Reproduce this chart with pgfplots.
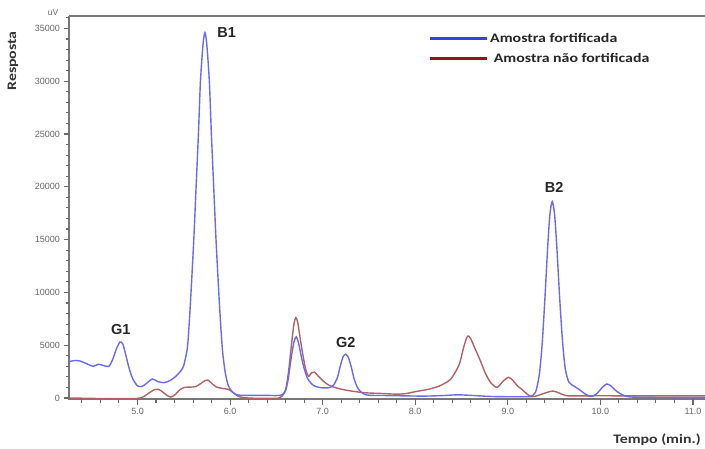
\documentclass[border=0pt]{standalone}
\usepackage{pgfplots}
\pgfplotsset{compat=1.18}
\usepackage{fontspec}
\setmainfont{Liberation Sans}
\newfontfamily\calb[FakeStretch=1.22]{Carlito}
\definecolor{cblue}{RGB}{105,105,248}
\definecolor{cred}{RGB}{178,98,98}
\definecolor{lblue}{RGB}{55,65,225}
\definecolor{lred}{RGB}{140,22,28}
\definecolor{axgray}{RGB}{120,120,120}
\definecolor{tkgray}{RGB}{105,105,105}
\begin{document}
\begin{tikzpicture}
\path[use as bounding box] (0pt,0pt) rectangle (705pt,448pt);
\begin{axis}[
  at={(69pt,49pt)}, anchor=south west,
  scale only axis, width=636pt, height=383pt,
  xmin=4.26, xmax=11.13, ymin=-95, ymax=36175,
  axis line style={draw=none},
  tick align=outside, xtick pos=bottom, ytick pos=left,
  major tick length=5.5pt, minor tick length=3.5pt,
  tick style={draw=tkgray, line width=1.1pt},
  xtick={5,6,7,8,9,10,11}, minor x tick num=4,
  ytick={0,5000,10000,15000,20000,25000,30000,35000}, minor y tick num=4,
  scaled y ticks=false, scaled x ticks=false,
  /pgf/number format/assume math mode=true,
  /pgf/number format/1000 sep={},
  xticklabel style={/pgf/number format/fixed, /pgf/number format/fixed zerofill, /pgf/number format/precision=1},
  yticklabel style={/pgf/number format/fixed, /pgf/number format/precision=0},
  tick label style={font=\fontsize{9}{10}\selectfont, text=black!60},
  clip=false,
  legend style={at={(0.5645,0.955)}, anchor=north west, draw=none, fill=none,
    font=\calb\bfseries\fontsize{13}{15}\selectfont, row sep=9pt, inner sep=0pt,
    cells={anchor=west}, nodes={inner xsep=2pt, inner ysep=0pt, text=black!85}},
  legend image code/.code={\draw[#1] (0pt,0pt) -- (57pt,0pt);},
]
\addlegendimage{lblue, line width=3pt}
\addlegendentry{Amostra fortificada}
\addlegendimage{lred, line width=3pt}
\addlegendentry{~Amostra não fortificada}
% axis frame (left, bottom, top) and ticks
\draw[axgray, line width=2pt] (rel axis cs:0,1) -- (rel axis cs:1,1);
\draw[axgray, line width=1.3pt] (rel axis cs:0,1) -- (rel axis cs:0,0) -- (rel axis cs:1,0);
\pgfplotsinvokeforeach{5,6,7,8,9,10,11}{\draw[tkgray, line width=1.1pt] (axis cs:#1,-95) -- ++(0pt,-5.5pt);}
\pgfplotsinvokeforeach{4.4,4.6,4.8,5.2,5.4,5.6,5.8,6.2,6.4,6.6,6.8,7.2,7.4,7.6,7.8,8.2,8.4,8.6,8.8,9.2,9.4,9.6,9.8,10.2,10.4,10.6,10.8}{\draw[tkgray, line width=1pt] (axis cs:#1,-95) -- ++(0pt,-3.5pt);}
\pgfplotsinvokeforeach{0,5000,10000,15000,20000,25000,30000,35000}{\draw[tkgray, line width=1.1pt] (axis cs:4.26,#1) -- ++(-5.5pt,0pt);}
\pgfplotsinvokeforeach{1000,2000,3000,4000,6000,7000,8000,9000,11000,12000,13000,14000,16000,17000,18000,19000,21000,22000,23000,24000,26000,27000,28000,29000,31000,32000,33000,34000,36000}{\draw[tkgray, line width=1pt] (axis cs:4.26,#1) -- ++(-3.5pt,0pt);}
\addplot[cred, line width=1.4pt, smooth, tension=0.45, forget plot] coordinates {
(4.26,0) (4.4,-20) (4.6,-50) (4.8,-60) (5.0,-40) (5.06,100) (5.12,450) (5.18,780) (5.22,820) (5.26,650) (5.31,300) (5.36,80) (5.41,350) (5.46,800) (5.51,1010) (5.57,1030) (5.63,1080) (5.68,1350) (5.73,1650) (5.76,1700) (5.80,1400) (5.85,1050) (5.92,900) (5.98,820) (6.03,550) (6.08,200) (6.14,40) (6.25,-20) (6.4,-40) (6.52,-20) (6.56,150) (6.60,800) (6.63,2400) (6.66,4800) (6.69,7000) (6.71,7600) (6.73,7200) (6.76,5500) (6.79,3900) (6.82,2600) (6.85,2050) (6.88,2400) (6.91,2450) (6.95,2100) (7.00,1650) (7.06,1250) (7.15,950) (7.28,700) (7.45,500) (7.63,430) (7.82,360) (7.92,450) (8.00,600) (8.14,820) (8.25,1100) (8.32,1400) (8.38,1750) (8.43,2400) (8.48,3300) (8.52,4700) (8.555,5700) (8.575,5870) (8.60,5600) (8.64,4800) (8.70,3600) (8.76,2300) (8.82,1400) (8.885,1010) (8.95,1600) (9.01,1960) (9.06,1600) (9.11,1100) (9.16,760) (9.21,350) (9.26,120) (9.33,250) (9.42,520) (9.49,660) (9.56,450) (9.63,220) (9.75,200) (10.0,210) (10.5,200) (11.13,200)
};
\addplot[cblue, line width=1.4pt, smooth, tension=0.45, forget plot] coordinates {
(4.26,3430) (4.32,3550) (4.38,3500) (4.45,3250) (4.52,3000) (4.58,3200) (4.64,3050) (4.69,3000) (4.73,3600) (4.77,4600) (4.81,5300) (4.84,5150) (4.87,4200) (4.91,2800) (4.95,1800) (5.00,1150) (5.05,1100) (5.10,1400) (5.16,1800) (5.22,1550) (5.29,1450) (5.36,1700) (5.42,2100) (5.47,2600) (5.50,3100) (5.538,4700) (5.558,7000) (5.578,10000) (5.608,15000) (5.633,20000) (5.658,25000) (5.680,30000) (5.708,33500) (5.728,34600) (5.748,33500) (5.776,30000) (5.798,25000) (5.823,20000) (5.848,15000) (5.878,10000) (5.898,7000) (5.92,4300) (5.95,2300) (5.98,1200) (6.02,600) (6.06,350) (6.12,250) (6.25,250) (6.40,250) (6.50,230) (6.56,300) (6.60,700) (6.63,1900) (6.66,3800) (6.69,5300) (6.715,5800) (6.74,5200) (6.77,3900) (6.80,2800) (6.84,1800) (6.90,1200) (6.96,1000) (7.03,950) (7.08,1000) (7.12,1250) (7.16,1950) (7.19,3000) (7.22,3900) (7.25,4150) (7.28,3800) (7.31,2900) (7.34,1800) (7.37,1100) (7.40,700) (7.45,350) (7.52,250) (7.7,230) (7.9,200) (8.1,180) (8.3,230) (8.45,300) (8.6,250) (8.8,150) (9.0,120) (9.2,120) (9.25,150) (9.30,560) (9.34,2200) (9.37,5000) (9.40,9300) (9.43,14200) (9.455,17400) (9.48,18600) (9.505,17400) (9.53,14200) (9.56,9500) (9.59,5500) (9.62,2800) (9.66,1500) (9.72,1100) (9.78,750) (9.84,350) (9.90,150) (9.96,400) (10.02,1000) (10.07,1330) (10.12,1100) (10.18,600) (10.25,250) (10.32,100) (10.5,60) (10.8,40) (11.13,30)
};
\node[font=\bfseries\fontsize{14.5}{16}\selectfont, text=black!85] at (axis cs:5.962,34610) {B1};
\node[font=\bfseries\fontsize{14.5}{16}\selectfont, text=black!85] at (axis cs:4.82,6530) {G1};
\node[font=\bfseries\fontsize{14.5}{16}\selectfont, text=black!85] at (axis cs:7.25,5300) {G2};
\node[font=\bfseries\fontsize{14.5}{16}\selectfont, text=black!85] at (axis cs:9.50,19930) {B2};
\end{axis}
\node[rotate=90, font=\calb\bfseries\fontsize{13}{15}\selectfont, text=black!80] at (13pt,387pt) {Resposta};
\node[font=\fontsize{8.5}{9}\selectfont, text=black!60] at (53pt,435pt) {uV};
\node[font=\calb\bfseries\fontsize{13}{15}\selectfont, text=black!80] at (657pt,8pt) {Tempo (min.)};
\end{tikzpicture}
\end{document}
